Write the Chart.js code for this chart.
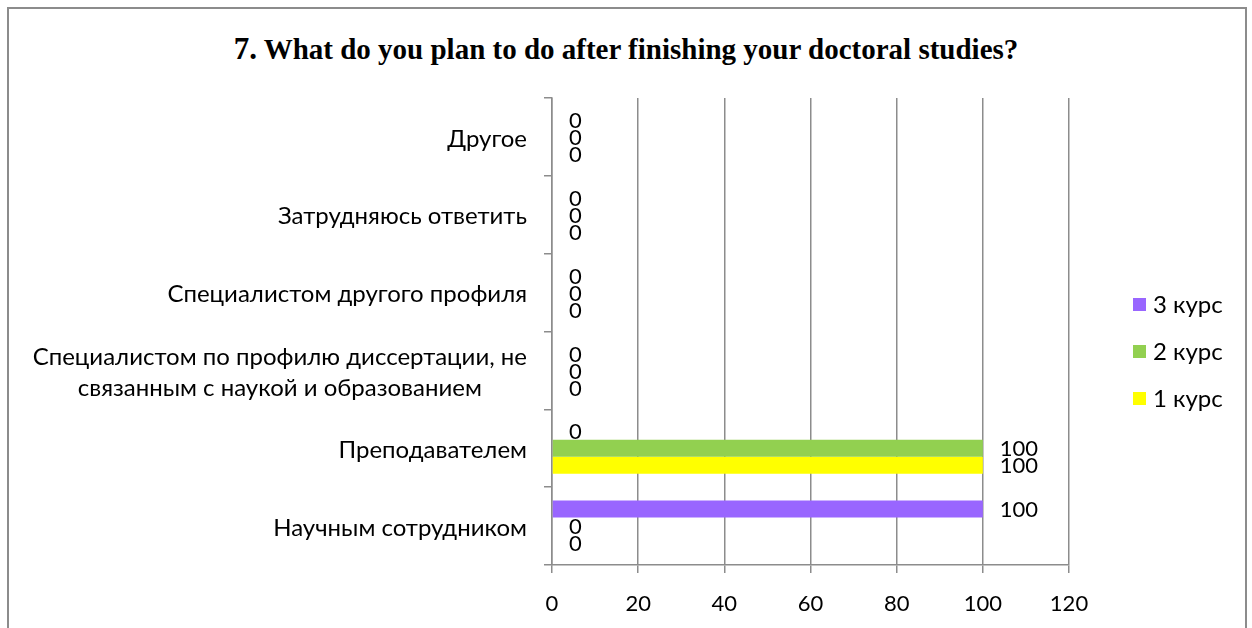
<!DOCTYPE html>
<html>
<head>
<meta charset="utf-8">
<script src="https://cdn.jsdelivr.net/npm/chart.js@4"></script>
<style>
body{margin:0;background:#fff;}
#wrap{position:relative;width:1252px;height:628px;overflow:hidden;}
#frame{position:absolute;left:7px;top:7px;width:1240px;height:660px;border:2px solid #8c8c8c;box-sizing:border-box;}
#title{position:absolute;left:0;top:31px;width:1252px;text-align:center;font-family:"Liberation Serif","Times New Roman",serif;font-weight:bold;font-size:29px;line-height:36px;color:#000;}
#title .num{font-size:31px;}
canvas{position:absolute;left:0;top:0;}
</style>
</head>
<body>
<div id="wrap">
  <div id="frame"></div>
  <div id="title"><span class="num">7.</span> What do you plan to do after finishing your doctoral studies?</div>
  <canvas id="chart" width="1252" height="628"></canvas>
</div>
<script>
// data
const categories = [
  'Другое',
  'Затрудняюсь ответить',
  'Специалистом другого профиля',
  ['Специалистом по профилю диссертации, не', 'связанным с наукой и образованием'],
  'Преподавателем',
  'Научным сотрудником'
];
const seriesNames = ['3 курс', '2 курс', '1 курс'];
const kurs3 = [0, 0, 0, 0, 0, 100];
const kurs2 = [0, 0, 0, 0, 100, 0];
const kurs1 = [0, 0, 0, 0, 100, 0];
const xTicks = [0, 20, 40, 60, 80, 100, 120];

const colors = ['#9966ff', '#92d050', '#ffff00'];
const FONT = 'Lato, "Open Sans", sans-serif';
const gridCol = '#8c8c8c';

// category labels, right aligned, multi-line centred on each other
const catLabels = {
  id: 'catLabels',
  afterDraw(chart) {
    const ctx = chart.ctx, y = chart.scales.y;
    ctx.save();
    ctx.font = '24px ' + FONT;
    ctx.fillStyle = '#000';
    ctx.textBaseline = 'middle';
    ctx.textAlign = 'center';
    categories.forEach((lab, i) => {
      const lines = Array.isArray(lab) ? lab : [lab];
      const cy = y.getPixelForValue(i) + 2;
      const maxW = Math.max(...lines.map(l => ctx.measureText(l).width));
      const right = y.right - 25;
      lines.forEach((l, k) => {
        ctx.fillText(l, right - maxW / 2, cy + (k - (lines.length - 1) / 2) * 31);
      });
    });
    ctx.restore();
  }
};

// value labels at bar ends
const valueLabels = {
  id: 'valueLabels',
  afterDatasetsDraw(chart) {
    const ctx = chart.ctx;
    ctx.save();
    ctx.font = '22px ' + FONT;
    ctx.fillStyle = '#000';
    ctx.textBaseline = 'middle';
    ctx.textAlign = 'left';
    chart.data.datasets.forEach((ds, di) => {
      chart.getDatasetMeta(di).data.forEach((bar, i) => {
        ctx.fillText(String(ds.data[i]), bar.x + 17, bar.y + 1);
      });
    });
    ctx.restore();
  }
};

// legend on the right
const sideLegend = {
  id: 'sideLegend',
  afterDraw(chart) {
    const ctx = chart.ctx;
    ctx.save();
    ctx.font = '24px ' + FONT;
    ctx.textBaseline = 'middle';
    ctx.textAlign = 'left';
    chart.data.datasets.forEach((ds, i) => {
      const cy = 304 + i * 47;
      ctx.fillStyle = ds.backgroundColor;
      ctx.fillRect(1133, cy - 6, 13, 13);
      ctx.fillStyle = '#000';
      ctx.fillText(ds.label, 1153, cy + 1);
    });
    ctx.restore();
  }
};

new Chart(document.getElementById('chart'), {
  type: 'bar',
  data: {
    labels: categories,
    datasets: [
      { label: seriesNames[0], data: kurs3, backgroundColor: colors[0] },
      { label: seriesNames[1], data: kurs2, backgroundColor: colors[1] },
      { label: seriesNames[2], data: kurs1, backgroundColor: colors[2] }
    ]
  },
  options: {
    indexAxis: 'y',
    responsive: false,
    animation: false,
    devicePixelRatio: 1,
    categoryPercentage: 0.655,
    barPercentage: 1,
    layout: { padding: { left: 0, top: 98, right: 183, bottom: 0 } },
    plugins: {
      legend: { display: false },
      tooltip: { enabled: false }
    },
    scales: {
      y: {
        offset: true,
        grid: { offset: true, drawOnChartArea: false, drawTicks: true, tickLength: 8, color: gridCol, lineWidth: 1.5 },
        border: { color: gridCol, width: 1.5 },
        ticks: { display: false },
        afterFit(s) { s.width = 552; }
      },
      x: {
        min: xTicks[0],
        max: xTicks[xTicks.length - 1],
        afterBuildTicks(s) { s.ticks = xTicks.map(v => ({ value: v })); },
        ticks: { color: '#000', font: { size: 22, family: FONT }, padding: 18 },
        grid: { color: gridCol, lineWidth: 1.5, drawTicks: true, tickLength: 8 },
        border: { color: gridCol, width: 1.5 },
        afterFit(s) { s.height = 63; }
      }
    }
  },
  plugins: [catLabels, valueLabels, sideLegend]
});
</script>
</body>
</html>
